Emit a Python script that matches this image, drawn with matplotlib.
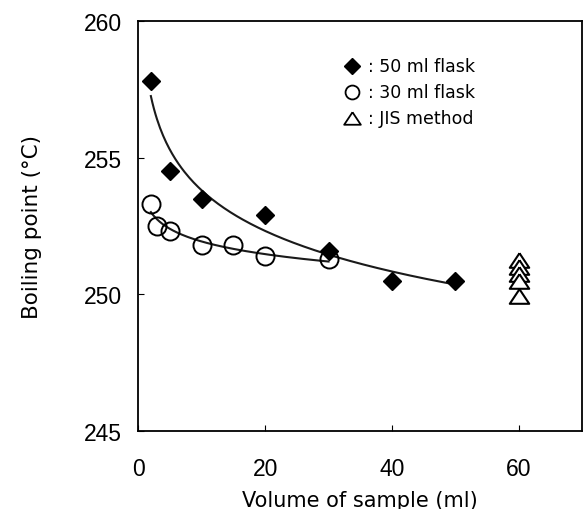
import numpy as np
import matplotlib
matplotlib.use("Agg")
import matplotlib.pyplot as plt

plt.rcParams['font.family'] = ['DejaVu Sans']

# Data
vol_50 = [2, 5, 10, 20, 30, 40, 50]
bp_50 = [257.8, 254.5, 253.5, 252.9, 251.6, 250.5, 250.5]
vol_30 = [2, 3, 5, 10, 15, 20, 30]
bp_30 = [253.3, 252.5, 252.3, 251.8, 251.8, 251.4, 251.3]
vol_jis = [60, 60, 60, 60, 60]
bp_jis = [251.25, 251.0, 250.75, 250.5, 249.95]

x_ticks = [0, 20, 40, 60]
y_ticks = [245, 250, 255, 260]

legend_labels = [': 50 ml flask', ': 30 ml flask', ': JIS method']

fig = plt.figure(figsize=(5.83, 5.10), dpi=100)
ax = fig.add_axes([0.237, 0.153, 0.762, 0.804])

# logarithmic trendlines fitted to each series
def log_fit(x, y):
    b, a = np.polyfit(np.log(x), y, 1)
    xs = np.linspace(min(x), max(x), 200)
    return xs, a + b * np.log(xs)

xs, ys = log_fit(vol_50, bp_50)
ax.plot(xs, ys, color='#1a1a1a', lw=1.5, zorder=2)
xs, ys = log_fit(vol_30, bp_30)
ax.plot(xs, ys, color='#1a1a1a', lw=1.5, zorder=2)

tri = [(0, 0.75), (-1, -0.75), (1, -0.75), (0, 0.75)]

ax.plot(vol_50, bp_50, linestyle='none', marker='D', ms=9.5, color='black', zorder=3)
ax.plot(vol_30, bp_30, linestyle='none', marker='o', ms=13, mfc='none', mec='black', mew=1.4, zorder=3)
ax.plot(vol_jis, bp_jis, linestyle='none', marker=tri, ms=14, mfc='white', mec='black', mew=1.5, zorder=3)

ax.set_xlim(0, 70)
ax.set_ylim(245, 260)
ax.set_xticks(x_ticks)
ax.set_yticks(y_ticks)
ax.tick_params(direction='in', length=4, width=0.8)
ax.tick_params(axis='y', pad=12)
ax.tick_params(axis='x', pad=19)
for lab in ax.get_xticklabels() + ax.get_yticklabels():
    lab.set_fontfamily(['Liberation Sans', 'DejaVu Sans'])
    lab.set_fontsize(16.5)
for s in ax.spines.values():
    s.set_linewidth(1.3)

ax.set_xlabel('Volume of sample (ml)', fontsize=15, labelpad=7)
ax.set_ylabel('Boiling point (\u00b0C)', fontsize=15.5, labelpad=30)

# legend drawn as marker + text
leg_markers = [dict(marker='D', ms=8.5, mfc='black', mec='black', mew=1.0),
               dict(marker='o', ms=10, mfc='none', mec='black', mew=1.3),
               dict(marker=tri, ms=12, mfc='none', mec='black', mew=1.3)]
x_mark = (352 - 138) / 444.5
x_text = (368 - 138) / 444.5
for i, (lab, mk) in enumerate(zip(legend_labels, leg_markers)):
    yy = 1 - (45 + 26 * i) / 410
    ax.plot([x_mark], [yy], transform=ax.transAxes, linestyle='none', clip_on=False, **mk)
    ax.text(x_text, yy, lab, transform=ax.transAxes, fontsize=12.5, va='center', ha='left')

fig.savefig('out.png', dpi=100)
